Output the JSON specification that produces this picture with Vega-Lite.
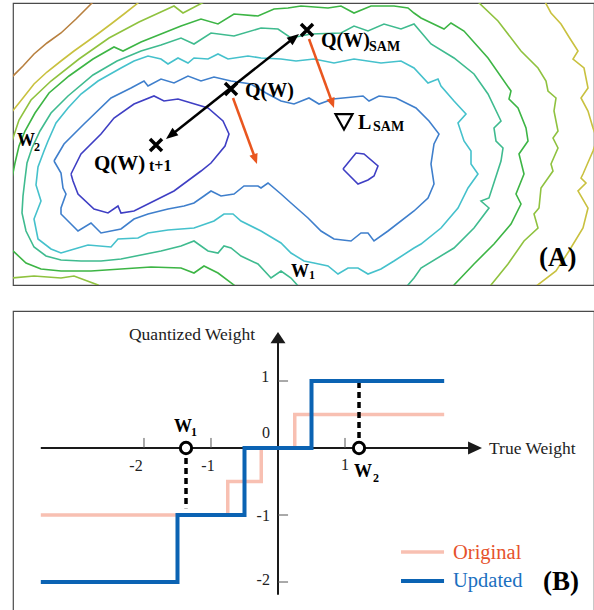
{
"$schema": "https://vega.github.io/schema/vega-lite/v6.json",
"background": "white",
"padding": {"left": 12, "top": 2, "right": 0, "bottom": 0},
"spacing": 24,
"config": {"view": {"stroke": "#4a4a4a", "strokeWidth": 1.2}},
"datasets": {
"contours": [
{"c":"L8","i":0,"x":-2,"y":207},{"c":"L8","i":1,"x":10,"y":219},{"c":"L8","i":2,"x":21,"y":231},{"c":"L8","i":3,"x":34,"y":242},{"c":"L8","i":4,"x":48,"y":252},{"c":"L8","i":5,"x":63,"y":266},{"c":"L8","i":6,"x":78,"y":281},{"c":"L8","i":7,"x":82,"y":285},
{"c":"L7a","i":0,"x":-2,"y":172},{"c":"L7a","i":1,"x":10,"y":187},{"c":"L7a","i":2,"x":21,"y":201},{"c":"L7a","i":3,"x":34,"y":213},{"c":"L7a","i":4,"x":48,"y":224},{"c":"L7a","i":5,"x":61,"y":234},{"c":"L7a","i":6,"x":75,"y":244},{"c":"L7a","i":7,"x":86,"y":252},{"c":"L7a","i":8,"x":98,"y":261},{"c":"L7a","i":9,"x":111,"y":271},{"c":"L7a","i":10,"x":125,"y":282},{"c":"L7a","i":11,"x":127,"y":285},
{"c":"L7b","i":0,"x":531,"y":285},{"c":"L7b","i":1,"x":538,"y":272},{"c":"L7b","i":2,"x":548,"y":261},{"c":"L7b","i":3,"x":556,"y":248},{"c":"L7b","i":4,"x":565,"y":234},{"c":"L7b","i":5,"x":560,"y":226},{"c":"L7b","i":6,"x":571,"y":217},{"c":"L7b","i":7,"x":575,"y":197},{"c":"L7b","i":8,"x":568,"y":187},{"c":"L7b","i":9,"x":575,"y":174},{"c":"L7b","i":10,"x":580,"y":157},{"c":"L7b","i":11,"x":584,"y":146},{"c":"L7b","i":12,"x":580,"y":134},{"c":"L7b","i":13,"x":570,"y":111},{"c":"L7b","i":14,"x":568,"y":107},{"c":"L7b","i":15,"x":573,"y":102},{"c":"L7b","i":16,"x":565,"y":94},{"c":"L7b","i":17,"x":575,"y":77},{"c":"L7b","i":18,"x":570,"y":57},{"c":"L7b","i":19,"x":556,"y":34},{"c":"L7b","i":20,"x":543,"y":14},{"c":"L7b","i":21,"x":522,"y":-2},
{"c":"L6a","i":0,"x":-2,"y":140},{"c":"L6a","i":1,"x":1,"y":150},{"c":"L6a","i":2,"x":6,"y":165},{"c":"L6a","i":3,"x":18,"y":185},{"c":"L6a","i":4,"x":38,"y":204},{"c":"L6a","i":5,"x":66,"y":226},{"c":"L6a","i":6,"x":96,"y":247},{"c":"L6a","i":7,"x":126,"y":263},{"c":"L6a","i":8,"x":150,"y":274},{"c":"L6a","i":9,"x":161,"y":279},{"c":"L6a","i":10,"x":170,"y":272},{"c":"L6a","i":11,"x":191,"y":283},{"c":"L6a","i":12,"x":192,"y":285},
{"c":"L6b","i":0,"x":-2,"y":7},{"c":"L6b","i":1,"x":21,"y":9},{"c":"L6b","i":2,"x":48,"y":7},{"c":"L6b","i":3,"x":61,"y":9},{"c":"L6b","i":4,"x":85,"y":0},{"c":"L6b","i":5,"x":87,"y":-2},
{"c":"L6c","i":0,"x":463,"y":285},{"c":"L6c","i":1,"x":485,"y":264},{"c":"L6c","i":2,"x":508,"y":234},{"c":"L6c","i":3,"x":525,"y":217},{"c":"L6c","i":4,"x":533,"y":204},{"c":"L6c","i":5,"x":535,"y":194},{"c":"L6c","i":6,"x":543,"y":187},{"c":"L6c","i":7,"x":541,"y":174},{"c":"L6c","i":8,"x":545,"y":154},{"c":"L6c","i":9,"x":540,"y":147},{"c":"L6c","i":10,"x":545,"y":137},{"c":"L6c","i":11,"x":538,"y":121},{"c":"L6c","i":12,"x":540,"y":114},{"c":"L6c","i":13,"x":528,"y":97},{"c":"L6c","i":14,"x":526,"y":77},{"c":"L6c","i":15,"x":521,"y":71},{"c":"L6c","i":16,"x":525,"y":57},{"c":"L6c","i":17,"x":511,"y":44},{"c":"L6c","i":18,"x":495,"y":21},{"c":"L6c","i":19,"x":478,"y":0},{"c":"L6c","i":20,"x":476,"y":-2},
{"c":"L5a","i":0,"x":-2,"y":102},{"c":"L5a","i":1,"x":2,"y":122},{"c":"L5a","i":2,"x":6,"y":139},{"c":"L5a","i":3,"x":12,"y":154},{"c":"L5a","i":4,"x":22,"y":172},{"c":"L5a","i":5,"x":36,"y":192},{"c":"L5a","i":6,"x":56,"y":209},{"c":"L5a","i":7,"x":80,"y":226},{"c":"L5a","i":8,"x":101,"y":238},{"c":"L5a","i":9,"x":110,"y":234},{"c":"L5a","i":10,"x":128,"y":243},{"c":"L5a","i":11,"x":148,"y":251},{"c":"L5a","i":12,"x":168,"y":259},{"c":"L5a","i":13,"x":188,"y":266},{"c":"L5a","i":14,"x":205,"y":261},{"c":"L5a","i":15,"x":221,"y":271},{"c":"L5a","i":16,"x":245,"y":269},{"c":"L5a","i":17,"x":261,"y":276},{"c":"L5a","i":18,"x":275,"y":277},{"c":"L5a","i":19,"x":288,"y":279},{"c":"L5a","i":20,"x":315,"y":277},{"c":"L5a","i":21,"x":328,"y":279},{"c":"L5a","i":22,"x":341,"y":272},{"c":"L5a","i":23,"x":358,"y":279},{"c":"L5a","i":24,"x":381,"y":279},{"c":"L5a","i":25,"x":395,"y":277},{"c":"L5a","i":26,"x":401,"y":272},{"c":"L5a","i":27,"x":408,"y":267},{"c":"L5a","i":28,"x":431,"y":256},{"c":"L5a","i":29,"x":438,"y":262},{"c":"L5a","i":30,"x":451,"y":254},{"c":"L5a","i":31,"x":475,"y":227},{"c":"L5a","i":32,"x":498,"y":194},{"c":"L5a","i":33,"x":496,"y":186},{"c":"L5a","i":34,"x":505,"y":177},{"c":"L5a","i":35,"x":513,"y":157},{"c":"L5a","i":36,"x":515,"y":144},{"c":"L5a","i":37,"x":506,"y":131},{"c":"L5a","i":38,"x":511,"y":111},{"c":"L5a","i":39,"x":503,"y":91},{"c":"L5a","i":40,"x":508,"y":81},{"c":"L5a","i":41,"x":498,"y":61},{"c":"L5a","i":42,"x":481,"y":41},{"c":"L5a","i":43,"x":461,"y":21},{"c":"L5a","i":44,"x":441,"y":0},{"c":"L5a","i":45,"x":439,"y":-2},
{"c":"L5b","i":0,"x":-2,"y":36},{"c":"L5b","i":1,"x":13,"y":22},{"c":"L5b","i":2,"x":28,"y":16},{"c":"L5b","i":3,"x":48,"y":14},{"c":"L5b","i":4,"x":78,"y":14},{"c":"L5b","i":5,"x":108,"y":16},{"c":"L5b","i":6,"x":138,"y":18},{"c":"L5b","i":7,"x":168,"y":17},{"c":"L5b","i":8,"x":181,"y":12},{"c":"L5b","i":9,"x":191,"y":19},{"c":"L5b","i":10,"x":205,"y":12},{"c":"L5b","i":11,"x":221,"y":0},{"c":"L5b","i":12,"x":223,"y":-2},
{"c":"L4","i":0,"x":286,"y":-2},{"c":"L4","i":1,"x":278,"y":7},{"c":"L4","i":2,"x":268,"y":14},{"c":"L4","i":3,"x":258,"y":7},{"c":"L4","i":4,"x":245,"y":21},{"c":"L4","i":5,"x":228,"y":29},{"c":"L4","i":6,"x":218,"y":37},{"c":"L4","i":7,"x":211,"y":39},{"c":"L4","i":8,"x":205,"y":32},{"c":"L4","i":9,"x":195,"y":34},{"c":"L4","i":10,"x":181,"y":44},{"c":"L4","i":11,"x":168,"y":39},{"c":"L4","i":12,"x":148,"y":34},{"c":"L4","i":13,"x":128,"y":30},{"c":"L4","i":14,"x":108,"y":26},{"c":"L4","i":15,"x":88,"y":24},{"c":"L4","i":16,"x":68,"y":24},{"c":"L4","i":17,"x":48,"y":25},{"c":"L4","i":18,"x":33,"y":29},{"c":"L4","i":19,"x":21,"y":38},{"c":"L4","i":20,"x":13,"y":54},{"c":"L4","i":21,"x":9,"y":72},{"c":"L4","i":22,"x":10,"y":89},{"c":"L4","i":23,"x":12,"y":106},{"c":"L4","i":24,"x":14,"y":122},{"c":"L4","i":25,"x":19,"y":137},{"c":"L4","i":26,"x":27,"y":154},{"c":"L4","i":27,"x":38,"y":172},{"c":"L4","i":28,"x":55,"y":189},{"c":"L4","i":29,"x":80,"y":210},{"c":"L4","i":30,"x":104,"y":224},{"c":"L4","i":31,"x":128,"y":234},{"c":"L4","i":32,"x":148,"y":240},{"c":"L4","i":33,"x":168,"y":247},{"c":"L4","i":34,"x":181,"y":241},{"c":"L4","i":35,"x":198,"y":252},{"c":"L4","i":36,"x":221,"y":249},{"c":"L4","i":37,"x":248,"y":257},{"c":"L4","i":38,"x":265,"y":256},{"c":"L4","i":39,"x":278,"y":247},{"c":"L4","i":40,"x":298,"y":251},{"c":"L4","i":41,"x":328,"y":252},{"c":"L4","i":42,"x":341,"y":259},{"c":"L4","i":43,"x":355,"y":254},{"c":"L4","i":44,"x":371,"y":261},{"c":"L4","i":45,"x":388,"y":256},{"c":"L4","i":46,"x":401,"y":261},{"c":"L4","i":47,"x":418,"y":241},{"c":"L4","i":48,"x":441,"y":227},{"c":"L4","i":49,"x":461,"y":211},{"c":"L4","i":50,"x":475,"y":191},{"c":"L4","i":51,"x":488,"y":164},{"c":"L4","i":52,"x":481,"y":157},{"c":"L4","i":53,"x":483,"y":144},{"c":"L4","i":54,"x":490,"y":137},{"c":"L4","i":55,"x":488,"y":124},{"c":"L4","i":56,"x":476,"y":87},{"c":"L4","i":57,"x":468,"y":84},{"c":"L4","i":58,"x":476,"y":77},{"c":"L4","i":59,"x":461,"y":57},{"c":"L4","i":60,"x":441,"y":37},{"c":"L4","i":61,"x":408,"y":17},{"c":"L4","i":62,"x":401,"y":7},{"c":"L4","i":63,"x":395,"y":0},{"c":"L4","i":64,"x":394,"y":-2},
{"c":"L3","i":0,"x":35,"y":144},{"c":"L3","i":1,"x":43,"y":162},{"c":"L3","i":2,"x":55,"y":177},{"c":"L3","i":3,"x":68,"y":191},{"c":"L3","i":4,"x":85,"y":204},{"c":"L3","i":5,"x":108,"y":217},{"c":"L3","i":6,"x":121,"y":224},{"c":"L3","i":7,"x":135,"y":229},{"c":"L3","i":8,"x":148,"y":226},{"c":"L3","i":9,"x":155,"y":221},{"c":"L3","i":10,"x":165,"y":227},{"c":"L3","i":11,"x":175,"y":222},{"c":"L3","i":12,"x":181,"y":227},{"c":"L3","i":13,"x":195,"y":226},{"c":"L3","i":14,"x":205,"y":231},{"c":"L3","i":15,"x":215,"y":226},{"c":"L3","i":16,"x":235,"y":229},{"c":"L3","i":17,"x":248,"y":227},{"c":"L3","i":18,"x":268,"y":226},{"c":"L3","i":19,"x":283,"y":224},{"c":"L3","i":20,"x":301,"y":226},{"c":"L3","i":21,"x":321,"y":222},{"c":"L3","i":22,"x":341,"y":226},{"c":"L3","i":23,"x":368,"y":222},{"c":"L3","i":24,"x":388,"y":224},{"c":"L3","i":25,"x":401,"y":217},{"c":"L3","i":26,"x":415,"y":202},{"c":"L3","i":27,"x":425,"y":206},{"c":"L3","i":28,"x":428,"y":199},{"c":"L3","i":29,"x":441,"y":184},{"c":"L3","i":30,"x":453,"y":171},{"c":"L3","i":31,"x":445,"y":162},{"c":"L3","i":32,"x":451,"y":144},{"c":"L3","i":33,"x":458,"y":134},{"c":"L3","i":34,"x":458,"y":121},{"c":"L3","i":35,"x":465,"y":111},{"c":"L3","i":36,"x":455,"y":97},{"c":"L3","i":37,"x":445,"y":77},{"c":"L3","i":38,"x":428,"y":57},{"c":"L3","i":39,"x":408,"y":41},{"c":"L3","i":40,"x":401,"y":37},{"c":"L3","i":41,"x":381,"y":24},{"c":"L3","i":42,"x":368,"y":16},{"c":"L3","i":43,"x":355,"y":11},{"c":"L3","i":44,"x":345,"y":17},{"c":"L3","i":45,"x":335,"y":17},{"c":"L3","i":46,"x":325,"y":11},{"c":"L3","i":47,"x":315,"y":19},{"c":"L3","i":48,"x":301,"y":22},{"c":"L3","i":49,"x":291,"y":24},{"c":"L3","i":50,"x":278,"y":32},{"c":"L3","i":51,"x":268,"y":42},{"c":"L3","i":52,"x":248,"y":54},{"c":"L3","i":53,"x":228,"y":64},{"c":"L3","i":54,"x":220,"y":71},{"c":"L3","i":55,"x":211,"y":71},{"c":"L3","i":56,"x":201,"y":64},{"c":"L3","i":57,"x":181,"y":57},{"c":"L3","i":58,"x":155,"y":55},{"c":"L3","i":59,"x":135,"y":52},{"c":"L3","i":60,"x":125,"y":47},{"c":"L3","i":61,"x":105,"y":46},{"c":"L3","i":62,"x":98,"y":38},{"c":"L3","i":63,"x":75,"y":40},{"c":"L3","i":64,"x":58,"y":35},{"c":"L3","i":65,"x":48,"y":32},{"c":"L3","i":66,"x":38,"y":36},{"c":"L3","i":67,"x":25,"y":46},{"c":"L3","i":68,"x":21,"y":66},{"c":"L3","i":69,"x":28,"y":84},{"c":"L3","i":70,"x":23,"y":100},{"c":"L3","i":71,"x":25,"y":118},{"c":"L3","i":72,"x":31,"y":134},{"c":"L3","i":73,"x":35,"y":144},
{"c":"L2","i":0,"x":41,"y":124},{"c":"L2","i":1,"x":51,"y":141},{"c":"L2","i":2,"x":71,"y":161},{"c":"L2","i":3,"x":98,"y":187},{"c":"L2","i":4,"x":118,"y":197},{"c":"L2","i":5,"x":131,"y":204},{"c":"L2","i":6,"x":135,"y":199},{"c":"L2","i":7,"x":148,"y":206},{"c":"L2","i":8,"x":161,"y":202},{"c":"L2","i":9,"x":175,"y":209},{"c":"L2","i":10,"x":188,"y":204},{"c":"L2","i":11,"x":201,"y":208},{"c":"L2","i":12,"x":218,"y":204},{"c":"L2","i":13,"x":238,"y":201},{"c":"L2","i":14,"x":253,"y":192},{"c":"L2","i":15,"x":268,"y":184},{"c":"L2","i":16,"x":281,"y":181},{"c":"L2","i":17,"x":296,"y":187},{"c":"L2","i":18,"x":306,"y":181},{"c":"L2","i":19,"x":320,"y":186},{"c":"L2","i":20,"x":350,"y":189},{"c":"L2","i":21,"x":356,"y":184},{"c":"L2","i":22,"x":366,"y":189},{"c":"L2","i":23,"x":383,"y":187},{"c":"L2","i":24,"x":403,"y":177},{"c":"L2","i":25,"x":416,"y":164},{"c":"L2","i":26,"x":426,"y":151},{"c":"L2","i":27,"x":421,"y":141},{"c":"L2","i":28,"x":418,"y":121},{"c":"L2","i":29,"x":421,"y":101},{"c":"L2","i":30,"x":415,"y":87},{"c":"L2","i":31,"x":401,"y":74},{"c":"L2","i":32,"x":375,"y":54},{"c":"L2","i":33,"x":361,"y":44},{"c":"L2","i":34,"x":355,"y":52},{"c":"L2","i":35,"x":348,"y":52},{"c":"L2","i":36,"x":338,"y":44},{"c":"L2","i":37,"x":321,"y":46},{"c":"L2","i":38,"x":308,"y":54},{"c":"L2","i":39,"x":295,"y":67},{"c":"L2","i":40,"x":278,"y":82},{"c":"L2","i":41,"x":268,"y":91},{"c":"L2","i":42,"x":255,"y":102},{"c":"L2","i":43,"x":248,"y":97},{"c":"L2","i":44,"x":245,"y":99},{"c":"L2","i":45,"x":231,"y":99},{"c":"L2","i":46,"x":221,"y":91},{"c":"L2","i":47,"x":208,"y":89},{"c":"L2","i":48,"x":198,"y":94},{"c":"L2","i":49,"x":191,"y":89},{"c":"L2","i":50,"x":181,"y":82},{"c":"L2","i":51,"x":171,"y":79},{"c":"L2","i":52,"x":155,"y":76},{"c":"L2","i":53,"x":135,"y":71},{"c":"L2","i":54,"x":121,"y":66},{"c":"L2","i":55,"x":108,"y":56},{"c":"L2","i":56,"x":88,"y":52},{"c":"L2","i":57,"x":78,"y":62},{"c":"L2","i":58,"x":65,"y":54},{"c":"L2","i":59,"x":58,"y":61},{"c":"L2","i":60,"x":48,"y":71},{"c":"L2","i":61,"x":48,"y":77},{"c":"L2","i":62,"x":53,"y":91},{"c":"L2","i":63,"x":50,"y":97},{"c":"L2","i":64,"x":48,"y":112},{"c":"L2","i":65,"x":41,"y":124},
{"c":"L1a","i":0,"x":58,"y":111},{"c":"L1a","i":1,"x":68,"y":131},{"c":"L1a","i":2,"x":88,"y":151},{"c":"L1a","i":3,"x":101,"y":167},{"c":"L1a","i":4,"x":121,"y":181},{"c":"L1a","i":5,"x":141,"y":189},{"c":"L1a","i":6,"x":151,"y":184},{"c":"L1a","i":7,"x":165,"y":186},{"c":"L1a","i":8,"x":195,"y":177},{"c":"L1a","i":9,"x":210,"y":164},{"c":"L1a","i":10,"x":216,"y":151},{"c":"L1a","i":11,"x":212,"y":139},{"c":"L1a","i":12,"x":198,"y":122},{"c":"L1a","i":13,"x":188,"y":114},{"c":"L1a","i":14,"x":161,"y":94},{"c":"L1a","i":15,"x":141,"y":84},{"c":"L1a","i":16,"x":121,"y":74},{"c":"L1a","i":17,"x":108,"y":72},{"c":"L1a","i":18,"x":105,"y":79},{"c":"L1a","i":19,"x":95,"y":72},{"c":"L1a","i":20,"x":81,"y":76},{"c":"L1a","i":21,"x":65,"y":91},{"c":"L1a","i":22,"x":60,"y":104},{"c":"L1a","i":23,"x":58,"y":111},
{"c":"L1b","i":0,"x":330,"y":116},{"c":"L1b","i":1,"x":343,"y":132},{"c":"L1b","i":2,"x":351,"y":131},{"c":"L1b","i":3,"x":365,"y":119},{"c":"L1b","i":4,"x":361,"y":109},{"c":"L1b","i":5,"x":355,"y":105},{"c":"L1b","i":6,"x":345,"y":101},{"c":"L1b","i":7,"x":330,"y":116}
]
},
"vconcat": [
{
"width": 581, "height": 282,
"encoding": {
  "x": {"field": "x", "type": "quantitative", "scale": {"domain": [0, 581], "nice": false, "zero": false}, "axis": null},
  "y": {"field": "y", "type": "quantitative", "scale": {"domain": [0, 282], "nice": false, "zero": false}, "axis": null}
},
"layer": [
  {"data": {"name": "contours"},
   "mark": {"type": "line", "strokeWidth": 1.6, "clip": true},
   "encoding": {
     "detail": {"field": "c", "type": "nominal"},
     "order": {"field": "i", "type": "quantitative"},
     "color": {"field": "c", "type": "nominal", "legend": null,
       "scale": {"domain": ["L1a","L1b","L2","L3","L4","L5a","L5b","L6a","L6b","L6c","L7a","L7b","L8"],
                 "range": ["#3f3fc4","#3f3fc4","#3f7fcc","#45c1cc","#3fbb8f","#3db545","#3db545","#8fc23f","#8fc23f","#8fc23f","#c9c13f","#c9c13f","#b8803f"]}}
   }},
  {"data": {"values": [{"x": 157, "y": 149, "i": 0}, {"x": 282, "y": 248, "i": 1}]},
   "mark": {"type": "line", "color": "black", "strokeWidth": 2.5, "clip": true},
   "encoding": {"order": {"field": "i", "type": "quantitative"}}},
  {"data": {"values": [{"g": "o1", "i": 0, "x": 220, "y": 187}, {"g": "o1", "i": 1, "x": 242, "y": 127}, {"g": "o2", "i": 0, "x": 296, "y": 246}, {"g": "o2", "i": 1, "x": 319, "y": 183}]},
   "mark": {"type": "line", "color": "#e9561f", "strokeWidth": 2.5, "clip": true},
   "encoding": {"detail": {"field": "g", "type": "nominal"}, "order": {"field": "i", "type": "quantitative"}}},
  {"data": {"values": [{"x": 153, "y": 146, "a": 231.7}, {"x": 286, "y": 251, "a": 51.7}]},
   "mark": {"type": "point", "shape": "M0,0L-0.4,1L0.4,1Z", "filled": true, "color": "black", "opacity": 1, "size": 576, "clip": true},
   "encoding": {"angle": {"field": "a", "type": "quantitative", "scale": null}}},
  {"data": {"values": [{"x": 244, "y": 121, "a": 160}, {"x": 321, "y": 177, "a": 160}]},
   "mark": {"type": "point", "shape": "M0,0L-0.42,1L0.42,1Z", "filled": true, "color": "#e9561f", "opacity": 1, "size": 420, "clip": true},
   "encoding": {"angle": {"field": "a", "type": "quantitative", "scale": null}}},
  {"data": {"values": [{"x": 218, "y": 196}, {"x": 294, "y": 255}, {"x": 143, "y": 140}]},
   "mark": {"type": "point", "shape": "M-1,-1L1,1M-1,1L1,-1", "filled": false, "color": "black", "opacity": 1, "strokeWidth": 3.5, "size": 144, "clip": true}},
  {"data": {"values": [{"x": 331, "y": 164}]},
   "mark": {"type": "point", "shape": "M-1,-0.8L1,-0.8L0,1Z", "filled": false, "color": "black", "opacity": 1, "strokeWidth": 2.2, "size": 289, "clip": true}},
  {"data": {"values": [
     {"t": "Q(W)", "x": 232, "y": 188, "s": 20},
     {"t": "Q(W)", "x": 308, "y": 238, "s": 20},
     {"t": "SAM", "x": 356, "y": 234, "s": 14},
     {"t": "Q(W)", "x": 81, "y": 115, "s": 21},
     {"t": "t+1", "x": 136, "y": 114, "s": 16},
     {"t": "L", "x": 345, "y": 156, "s": 20},
     {"t": "SAM", "x": 360, "y": 154, "s": 14},
     {"t": "W", "x": 4, "y": 139, "s": 18},
     {"t": "2", "x": 21, "y": 134, "s": 12},
     {"t": "W", "x": 278, "y": 8, "s": 18},
     {"t": "1", "x": 296, "y": 6, "s": 12},
     {"t": "(A)", "x": 526, "y": 19, "s": 27}
   ]},
   "mark": {"type": "text", "font": "Liberation Serif", "fontWeight": "bold", "align": "left", "baseline": "alphabetic", "color": "black", "clip": true},
   "encoding": {"text": {"field": "t", "type": "nominal"}, "size": {"field": "s", "type": "quantitative", "scale": null}}}
]
},
{
"width": 581, "height": 310,
"encoding": {
  "x": {"field": "x", "type": "quantitative", "scale": {"domain": [-3.955, 4.716], "nice": false, "zero": false}, "axis": null},
  "y": {"field": "y", "type": "quantitative", "scale": {"domain": [-2.582, 2.045], "nice": false, "zero": false}, "axis": null}
},
"layer": [
  {"data": {"values": [{"i":0,"x":-3.54,"y":-1},{"i":1,"x":-0.75,"y":-1},{"i":2,"x":-0.75,"y":-0.5},{"i":3,"x":-0.25,"y":-0.5},{"i":4,"x":-0.25,"y":0},{"i":5,"x":0.25,"y":0},{"i":6,"x":0.25,"y":0.5},{"i":7,"x":2.48,"y":0.5}]},
   "mark": {"type": "line", "color": "#f8c0b2", "strokeWidth": 3.5, "clip": true},
   "encoding": {"order": {"field": "i", "type": "quantitative"}}},
  {"data": {"values": [{"x":-3.54,"y":0,"x2":2.95,"y2":0},{"x":0,"y":-2.19,"x2":0,"y2":1.62}]},
   "mark": {"type": "rule", "color": "#1a1a1a", "strokeWidth": 2, "clip": true},
   "encoding": {"x2": {"field": "x2"}, "y2": {"field": "y2"}}},
  {"data": {"values": [{"x":-2,"y":0,"x2":-2,"y2":0.15},{"x":-1,"y":0,"x2":-1,"y2":0.15},{"x":1,"y":0,"x2":1,"y2":0.15},{"x":0,"y":1,"x2":0.15,"y2":1},{"x":0,"y":-1,"x2":0.15,"y2":-1},{"x":0,"y":-2,"x2":0.15,"y2":-2}]},
   "mark": {"type": "rule", "color": "#555555", "strokeWidth": 1, "clip": true},
   "encoding": {"x2": {"field": "x2"}, "y2": {"field": "y2"}}},
  {"data": {"values": [{"i":0,"x":-3.54,"y":-2},{"i":1,"x":-1.5,"y":-2},{"i":2,"x":-1.5,"y":-1},{"i":3,"x":-0.5,"y":-1},{"i":4,"x":-0.5,"y":0},{"i":5,"x":0.5,"y":0},{"i":6,"x":0.5,"y":1},{"i":7,"x":2.48,"y":1}]},
   "mark": {"type": "line", "color": "#0b63b3", "strokeWidth": 4, "clip": true},
   "encoding": {"order": {"field": "i", "type": "quantitative"}}},
  {"data": {"values": [{"x":-1.373,"y":0,"x2":-1.373,"y2":-0.9},{"x":1.209,"y":0,"x2":1.209,"y2":0.97}]},
   "mark": {"type": "rule", "color": "black", "strokeWidth": 3.5, "strokeDash": [6, 4], "clip": true},
   "encoding": {"x2": {"field": "x2"}, "y2": {"field": "y2"}}},
  {"data": {"values": [{"x":1.836,"y":-1.552,"x2":2.478,"y2":-1.552}]},
   "mark": {"type": "rule", "color": "#f8c0b2", "strokeWidth": 3.5, "clip": true},
   "encoding": {"x2": {"field": "x2"}, "y2": {"field": "y2"}}},
  {"data": {"values": [{"x":1.836,"y":-1.985,"x2":2.478,"y2":-1.985}]},
   "mark": {"type": "rule", "color": "#0b63b3", "strokeWidth": 4, "clip": true},
   "encoding": {"x2": {"field": "x2"}, "y2": {"field": "y2"}}},
  {"data": {"values": [{"x":-1.373,"y":0},{"x":1.209,"y":0}]},
   "mark": {"type": "point", "shape": "circle", "filled": true, "fill": "white", "stroke": "black", "strokeWidth": 3, "opacity": 1, "size": 128, "clip": true}},
  {"data": {"values": [{"x":3.045,"y":0}]},
   "mark": {"type": "point", "shape": "M0,0L-2,-0.93L-2,0.93Z", "filled": true, "color": "#1a1a1a", "opacity": 1, "size": 196, "clip": true}},
  {"data": {"values": [{"x":0,"y":1.731}]},
   "mark": {"type": "point", "shape": "M0,0L-1,1.5L1,1.5Z", "filled": true, "color": "#1a1a1a", "opacity": 1, "size": 225, "clip": true}},
  {"data": {"values": [
     {"t":"-2","x":-2.12,"y":-0.343},{"t":"-1","x":-1.045,"y":-0.343},{"t":"1","x":1.0,"y":-0.33},{"t":"0","x":-0.18,"y":0.15},
     {"t":"1","x":-0.19,"y":0.985},{"t":"-1","x":-0.22,"y":-1.09},{"t":"-2","x":-0.22,"y":-2.045}
   ]},
   "mark": {"type": "text", "font": "Liberation Serif", "fontSize": 16, "align": "center", "baseline": "alphabetic", "color": "#222222", "clip": true},
   "encoding": {"text": {"field": "t", "type": "nominal"}}},
  {"data": {"values": [
     {"t":"Quantized Weight","x":-2.224,"y":1.612,"s":17.5,"col":"#222222"},
     {"t":"True Weight","x":3.149,"y":-0.09,"s":17.5,"col":"#222222"},
     {"t":"Original","x":2.612,"y":-1.657,"s":20.5,"col":"#e6522c"},
     {"t":"Updated","x":2.612,"y":-2.075,"s":20.5,"col":"#1b6fc0"}
   ]},
   "mark": {"type": "text", "font": "Liberation Serif", "align": "left", "baseline": "alphabetic", "clip": true},
   "encoding": {"text": {"field": "t", "type": "nominal"}, "size": {"field": "s", "type": "quantitative", "scale": null}, "color": {"field": "col", "type": "nominal", "scale": null}}},
  {"data": {"values": [
     {"t":"W","x":-1.552,"y":0.239,"s":18},{"t":"1","x":-1.299,"y":0.179,"s":12},
     {"t":"W","x":1.134,"y":-0.433,"s":18},{"t":"2","x":1.418,"y":-0.507,"s":12},
     {"t":"(B)","x":3.955,"y":-2.12,"s":27}
   ]},
   "mark": {"type": "text", "font": "Liberation Serif", "fontWeight": "bold", "align": "left", "baseline": "alphabetic", "color": "black", "clip": true},
   "encoding": {"text": {"field": "t", "type": "nominal"}, "size": {"field": "s", "type": "quantitative", "scale": null}}}
]
}
]
}
